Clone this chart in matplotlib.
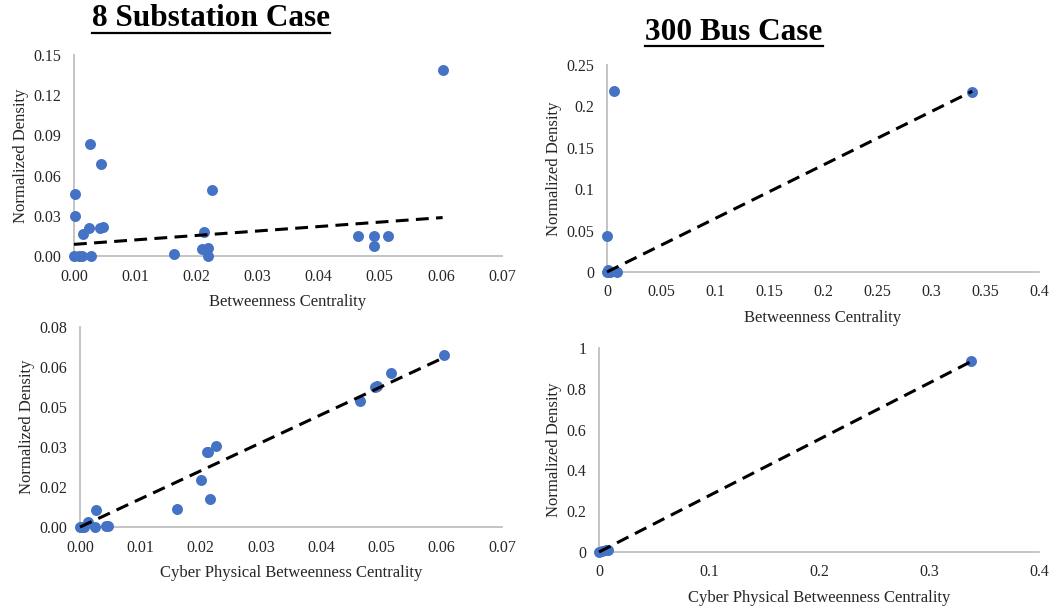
import numpy as np
from matplotlib import pyplot as plt
from matplotlib.lines import Line2D

plt.rcParams["font.family"] = ["Liberation Serif", "DejaVu Serif"]

# 8 变电站算例：介数中心性 / 信息物理介数中心性 与 归一化密度
bc_8 = [0.0603, 0.0027, 0.0044, 0.0002, 0.0002, 0.0226, 0.0024, 0.0042, 0.0047,
        0.0014, 0.0213, 0.0465, 0.0490, 0.0514, 0.0490, 0.0164, 0.0209, 0.0219,
        0.0219, 0.0, 0.0008, 0.0013, 0.0028]
nd_8 = [0.139, 0.0835, 0.0685, 0.0461, 0.0302, 0.0491, 0.0212, 0.0212, 0.0215,
        0.0162, 0.0182, 0.0147, 0.0147, 0.0147, 0.0072, 0.0017, 0.0052, 0.0062,
        0.0002, 0.0, 0.0, 0.0, 0.0]
cpbc_8 = [0.0604, 0.0516, 0.0489, 0.0492, 0.0465, 0.0226, 0.0210, 0.0213, 0.0201,
          0.0215, 0.0161, 0.0027, 0.0014, 0.0025, 0.0043, 0.0046, 0.0, 0.0003, 0.0006]
cpnd_8 = [0.0646, 0.0579, 0.0525, 0.0527, 0.0473, 0.0303, 0.0280, 0.0282, 0.0175,
          0.0105, 0.0068, 0.0063, 0.0019, 0.0, 0.0003, 0.0004, 0.0, 0.0, 0.0]

# 300 节点算例
bc_300 = [0.3383, 0.0062, 0.0, 0.0006, 0.0092, 0.0, 0.0015, 0.003]
nd_300 = [0.2178, 0.2186, 0.0438, 0.0028, 0.0, 0.0, 0.0, 0.0]
cpbc_300 = [0.3379, 0.0, 0.003, 0.006, 0.008]
cpnd_300 = [0.938, 0.0, 0.004, 0.008, 0.012]

# 线性趋势线 (斜率, 截距)
trend_8 = (0.332, 0.0087)
trend_8_cp = (1.053, 0.0)
trend_300 = (0.645, 0.0)
trend_300_cp = (2.76, 0.0)

# 坐标轴刻度
ticks_8_x = [0.0, 0.01, 0.02, 0.03, 0.04, 0.05, 0.06, 0.07]
ticks_8_y = [0.0, 0.03, 0.06, 0.09, 0.12, 0.15]
ticks_8_cp_y = [0.0, 0.015, 0.03, 0.045, 0.06, 0.075]
labels_8_cp_y = ["0.00", "0.02", "0.03", "0.05", "0.06", "0.08"]
ticks_300_x = [0, 0.05, 0.1, 0.15, 0.2, 0.25, 0.3, 0.35, 0.4]
ticks_300_y = [0, 0.05, 0.1, 0.15, 0.2, 0.25]
ticks_300_cp_x = [0, 0.1, 0.2, 0.3, 0.4]
ticks_300_cp_y = [0, 0.2, 0.4, 0.6, 0.8, 1]

BLUE = "#4472C4"
GRAY = "#BFBFBF"


def fmt_general(v):
    return f"{v:g}"


def draw_panel(ax, x, y, trend, xticks, yticks, xlabels, ylabels, xlabel):
    ax.plot(x, y, "o", color=BLUE, markersize=7.9, markeredgewidth=0,
            zorder=2, clip_on=False)
    k, b = trend
    xs = np.array([0.0, max(x)])
    ax.plot(xs, k * xs + b, color="black", lw=2.2, dashes=(4.2, 2.4),
            zorder=3, clip_on=False)
    ax.set_xlim(xticks[0], xticks[-1])
    ax.set_ylim(yticks[0], yticks[-1])
    ax.set_xticks(xticks)
    ax.set_xticklabels(xlabels)
    ax.set_yticks(yticks)
    ax.set_yticklabels(ylabels)
    ax.tick_params(length=0, labelsize=11.5, pad=9, colors="#262626")
    for side in ["top", "right"]:
        ax.spines[side].set_visible(False)
    for side in ["left", "bottom"]:
        ax.spines[side].set_color(GRAY)
        ax.spines[side].set_linewidth(1.3)
        ax.spines[side].set_zorder(1)
    ax.set_xlabel(xlabel, fontsize=12, labelpad=7, color="#262626")
    ax.set_ylabel("Normalized Density", fontsize=12, labelpad=3, color="#262626")


fig = plt.figure(figsize=(10.58, 6.09), dpi=100)

ax1 = fig.add_axes([0.0699, 0.5796, 0.4045, 0.330])
draw_panel(ax1, bc_8, nd_8, trend_8, ticks_8_x, ticks_8_y,
           [f"{v:.2f}" for v in ticks_8_x], [f"{v:.2f}" for v in ticks_8_y],
           "Betweenness Centrality")

ax2 = fig.add_axes([0.5737, 0.5534, 0.4083, 0.340])
draw_panel(ax2, bc_300, nd_300, trend_300, ticks_300_x, ticks_300_y,
           [fmt_general(v) for v in ticks_300_x], [fmt_general(v) for v in ticks_300_y],
           "Betweenness Centrality")

ax3 = fig.add_axes([0.0756, 0.1346, 0.3989, 0.3284])
draw_panel(ax3, cpbc_8, cpnd_8, trend_8_cp, ticks_8_x, ticks_8_cp_y,
           [f"{v:.2f}" for v in ticks_8_x], labels_8_cp_y,
           "Cyber Physical Betweenness Centrality")

ax4 = fig.add_axes([0.5662, 0.0936, 0.4159, 0.335])
draw_panel(ax4, cpbc_300, cpnd_300, trend_300_cp, ticks_300_cp_x, ticks_300_cp_y,
           [fmt_general(v) for v in ticks_300_cp_x], [fmt_general(v) for v in ticks_300_cp_y],
           "Cyber Physical Betweenness Centrality")

# 标题（加粗 + 下划线）
titles = [("8 Substation Case", 211, 19), ("300 Bus Case", 734, 32)]
fig.canvas.draw()
renderer = fig.canvas.get_renderer()
W, H = 1058, 609
for text, cx, cy in titles:
    t = fig.text(cx / W, 1 - cy / H, text, ha="center", va="center",
                 fontsize=22.5, fontweight="bold")
    bb = t.get_window_extent(renderer=renderer)
    yline = bb.y0 + 1
    fig.add_artist(Line2D([bb.x0 / W, bb.x1 / W], [yline / H, yline / H],
                          color="black", lw=1.6, transform=fig.transFigure))

fig.savefig("out.png", dpi=100)
